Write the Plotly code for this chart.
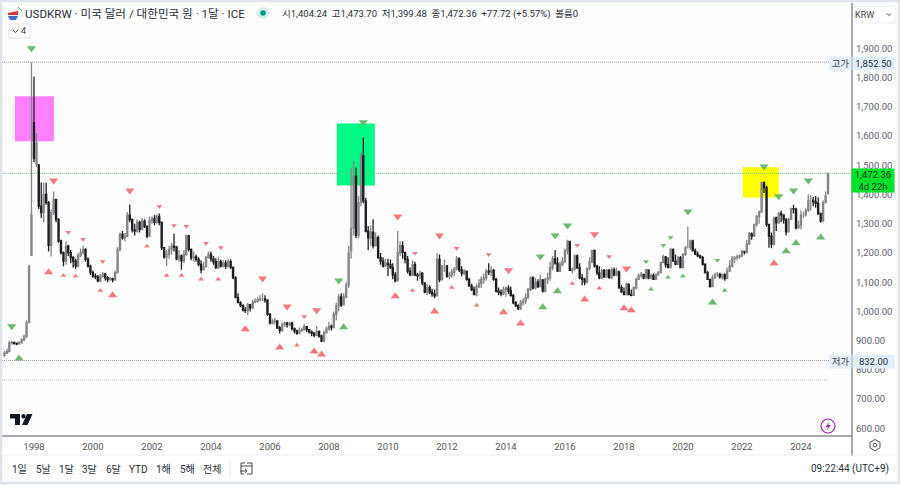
import pandas as pd
import plotly.graph_objects as go

W, H = 900, 485
FONT = "Roboto, 'Noto Sans CJK KR', sans-serif"

# monthly bars, Jan 1997 .. Dec 2024, one row per year
closes = [
    857, 863, 892, 894, 891, 889, 893, 903, 915, 962, 1154, 1329,
    1523, 1578, 1360, 1338, 1400, 1372, 1226, 1338, 1383, 1315, 1241, 1201,
    1172, 1223, 1201, 1184, 1172, 1155, 1190, 1201, 1212, 1178, 1155, 1133,
    1121, 1118, 1105, 1120, 1128, 1116, 1109, 1112, 1108, 1133, 1212, 1264,
    1252, 1258, 1329, 1315, 1279, 1275, 1305, 1281, 1309, 1290, 1258, 1310,
    1318, 1305, 1325, 1305, 1218, 1187, 1195, 1212, 1223, 1220, 1180, 1190,
    1173, 1195, 1258, 1212, 1184, 1187, 1178, 1161, 1142, 1153, 1185, 1195,
    1180, 1170, 1150, 1170, 1155, 1165, 1155, 1170, 1150, 1115, 1047, 1030,
    1020, 1005, 1003, 1023, 1012, 1032, 1035, 1040, 1043, 1043, 1039, 990,
    961, 965, 968, 944, 935, 955, 960, 955, 960, 941, 933, 925,
    935, 938, 948, 938, 930, 925, 918, 932, 916, 899, 927, 940,
    950, 945, 990, 1020, 1050, 1023, 1050, 1090, 1200, 1285, 1463, 1260,
    1372, 1532, 1378, 1275, 1252, 1271, 1224, 1252, 1184, 1172, 1155, 1165,
    1160, 1150, 1125, 1105, 1201, 1225, 1201, 1178, 1138, 1125, 1160, 1125,
    1122, 1130, 1098, 1066, 1082, 1066, 1060, 1053, 1178, 1109, 1155, 1155,
    1121, 1125, 1135, 1145, 1180, 1142, 1130, 1138, 1110, 1087, 1075, 1058,
    1085, 1095, 1110, 1115, 1138, 1135, 1140, 1110, 1070, 1065, 1060, 1075,
    1080, 1070, 1055, 1030, 1020, 1010, 1030, 1035, 1047, 1075, 1115, 1081,
    1100, 1085, 1108, 1070, 1110, 1115, 1150, 1180, 1165, 1138, 1160, 1172,
    1207, 1240, 1141, 1145, 1190, 1150, 1115, 1110, 1100, 1147, 1170, 1208,
    1155, 1132, 1115, 1140, 1118, 1140, 1115, 1142, 1125, 1135, 1081, 1066,
    1058, 1093, 1058, 1055, 1081, 1110, 1123, 1127, 1115, 1142, 1115, 1123,
    1110, 1127, 1133, 1167, 1187, 1160, 1150, 1212, 1172, 1161, 1184, 1150,
    1195, 1218, 1218, 1241, 1207, 1195, 1190, 1184, 1161, 1133, 1110, 1085,
    1116, 1127, 1127, 1118, 1127, 1112, 1138, 1155, 1180, 1185, 1187, 1190,
    1205, 1203, 1230, 1265, 1258, 1298, 1325, 1340, 1440, 1424, 1298, 1258,
    1230, 1320, 1303, 1335, 1330, 1313, 1272, 1315, 1352, 1350, 1286, 1295,
    1330, 1330, 1345, 1380, 1380, 1375, 1370, 1335, 1310, 1372, 1395, 1472.36,
]
highs = [
    866, 872, 900, 899, 896, 894, 898, 908, 920, 970, 1160, 1852.5,
    1804, 1610, 1505, 1441, 1441, 1441, 1378, 1349, 1410, 1383, 1320, 1245,
    1205, 1240, 1228, 1210, 1190, 1180, 1200, 1215, 1225, 1216, 1185, 1160,
    1140, 1130, 1125, 1128, 1135, 1132, 1120, 1118, 1115, 1140, 1220, 1270,
    1275, 1268, 1340, 1366, 1318, 1300, 1315, 1310, 1320, 1315, 1295, 1325,
    1325, 1330, 1332, 1335, 1308, 1215, 1210, 1225, 1235, 1266, 1225, 1210,
    1195, 1210, 1262, 1262, 1215, 1205, 1195, 1185, 1175, 1170, 1190, 1205,
    1205, 1190, 1182, 1185, 1178, 1175, 1175, 1180, 1178, 1155, 1120, 1062,
    1035, 1025, 1015, 1030, 1020, 1040, 1045, 1050, 1055, 1062, 1055, 1042,
    995, 975, 978, 970, 950, 962, 965, 965, 965, 965, 945, 938,
    945, 945, 958, 950, 940, 935, 930, 950, 935, 920, 935, 948,
    965, 955, 1000, 1030, 1060, 1062, 1062, 1100, 1224, 1491, 1514, 1492,
    1395, 1543, 1594, 1389, 1292, 1295, 1315, 1270, 1260, 1200, 1185, 1180,
    1180, 1178, 1165, 1135, 1275, 1240, 1240, 1205, 1190, 1150, 1175, 1170,
    1132, 1140, 1135, 1100, 1095, 1090, 1078, 1075, 1200, 1195, 1160, 1178,
    1160, 1135, 1145, 1152, 1190, 1185, 1155, 1145, 1140, 1115, 1095, 1085,
    1095, 1110, 1120, 1130, 1145, 1165, 1155, 1145, 1115, 1082, 1075, 1085,
    1085, 1090, 1085, 1060, 1035, 1025, 1040, 1045, 1062, 1080, 1120, 1120,
    1115, 1110, 1125, 1108, 1115, 1132, 1170, 1190, 1210, 1185, 1170, 1185,
    1215, 1245, 1240, 1150, 1195, 1195, 1165, 1128, 1115, 1150, 1185, 1212,
    1212, 1160, 1155, 1147, 1145, 1145, 1145, 1150, 1150, 1150, 1140, 1090,
    1082, 1098, 1090, 1075, 1085, 1115, 1130, 1135, 1128, 1145, 1140, 1130,
    1130, 1130, 1138, 1170, 1195, 1190, 1185, 1218, 1215, 1195, 1190, 1190,
    1200, 1225, 1290, 1245, 1245, 1215, 1205, 1195, 1190, 1165, 1138, 1112,
    1125, 1132, 1135, 1132, 1130, 1130, 1150, 1175, 1190, 1190, 1195, 1195,
    1210, 1208, 1245, 1272, 1270, 1300, 1330, 1345, 1443, 1445, 1430, 1300,
    1270, 1325, 1325, 1340, 1345, 1330, 1320, 1320, 1355, 1365, 1355, 1310,
    1345, 1340, 1355, 1400, 1398, 1392, 1395, 1390, 1338, 1380, 1410, 1473.7,
]
lows = [
    845, 855, 861, 886, 886, 884, 886, 890, 899, 908, 960, 1192,
    1510, 1495, 1350, 1320, 1305, 1365, 1205, 1188, 1330, 1305, 1235, 1195,
    1155, 1160, 1190, 1165, 1150, 1145, 1150, 1185, 1195, 1170, 1150, 1125,
    1115, 1110, 1100, 1100, 1115, 1105, 1100, 1105, 1100, 1105, 1130, 1205,
    1245, 1240, 1255, 1305, 1270, 1260, 1270, 1270, 1280, 1285, 1250, 1255,
    1300, 1295, 1300, 1295, 1210, 1180, 1155, 1180, 1195, 1205, 1175, 1170,
    1143, 1165, 1190, 1205, 1175, 1170, 1170, 1155, 1130, 1140, 1150, 1180,
    1170, 1160, 1145, 1145, 1150, 1150, 1145, 1150, 1145, 1110, 1045, 1028,
    1015, 1000, 995, 988, 1000, 1008, 1030, 1030, 1035, 1035, 1030, 985,
    955, 955, 955, 940, 925, 930, 948, 945, 950, 935, 925, 920,
    922, 930, 935, 930, 925, 915, 912, 915, 910, 895, 895, 925,
    935, 935, 945, 970, 1000, 1015, 1020, 1045, 1080, 1180, 1260, 1250,
    1250, 1360, 1370, 1270, 1210, 1225, 1215, 1222, 1180, 1160, 1150, 1155,
    1121, 1145, 1110, 1100, 1105, 1190, 1180, 1165, 1130, 1120, 1120, 1120,
    1105, 1110, 1090, 1062, 1055, 1060, 1050, 1045, 1060, 1100, 1105, 1135,
    1115, 1110, 1115, 1120, 1140, 1135, 1120, 1125, 1105, 1085, 1070, 1055,
    1052, 1080, 1080, 1095, 1105, 1125, 1120, 1105, 1065, 1055, 1052, 1055,
    1050, 1060, 1050, 1025, 1015, 1005, 1005, 1020, 1025, 1042, 1070, 1075,
    1075, 1080, 1085, 1065, 1065, 1095, 1105, 1140, 1160, 1135, 1135, 1155,
    1165, 1195, 1140, 1130, 1140, 1145, 1110, 1090, 1090, 1095, 1140, 1165,
    1150, 1125, 1110, 1110, 1115, 1115, 1115, 1110, 1120, 1120, 1078, 1064,
    1056, 1055, 1055, 1052, 1055, 1075, 1108, 1115, 1110, 1110, 1110, 1110,
    1108, 1110, 1122, 1132, 1165, 1150, 1148, 1180, 1170, 1158, 1160, 1150,
    1155, 1190, 1215, 1210, 1205, 1193, 1185, 1180, 1157, 1130, 1108, 1082,
    1085, 1110, 1118, 1112, 1108, 1105, 1110, 1135, 1150, 1165, 1175, 1180,
    1185, 1195, 1198, 1230, 1245, 1255, 1290, 1300, 1338, 1405, 1290, 1218,
    1216, 1225, 1275, 1300, 1305, 1300, 1260, 1270, 1315, 1335, 1280, 1285,
    1280, 1320, 1325, 1340, 1345, 1360, 1355, 1330, 1303, 1305, 1375, 1399.48,
]
# opens follow the previous close except where the bar gaps
open_gaps = {0: 850, 11: 1192, 12: 1646, 13: 1503, 14: 1500, 141: 1207, 335: 1404.24}

# pivot markers: bar number (0 = Jan 1997) and price
green_down_big = ([11, 3, 136, 146, 218, 224, 229, 278, 309, 315, 321, 327],
                  [1900, 949, 1106, 1647, 1188, 1260, 1294, 1342, 1496, 1394, 1414, 1448])
green_down_small = ([261, 268, 271, 290], [1171, 1226, 1253, 1175])
green_up_big = ([6, 138, 219, 225, 288, 318, 322, 332],
                [839, 946, 1014, 1069, 1031, 1206, 1233, 1253])
green_up_small = ([263, 270, 276, 293], [1076, 1117, 1120, 1072])
red_down_big = ([20, 51, 105, 115, 127, 160, 177, 205, 240, 253],
                [1448, 1414, 1113, 1017, 1004, 1325, 1260, 1141, 1264, 1147])
red_down_small = ([26, 32, 40, 63, 69, 74, 82, 88, 122, 167, 184, 197, 233, 246],
                  [1271, 1247, 1171, 1359, 1294, 1291, 1233, 1219, 983, 1199, 1216, 1195, 1226, 1188])
red_up_big = ([18, 44, 98, 112, 126, 129, 159, 175, 203, 210, 236, 252, 255, 313],
              [1134, 1055, 939, 877, 863, 853, 1052, 1000, 997, 959, 1041, 1011, 1004, 1164])
red_up_small = ([24, 29, 39, 58, 66, 72, 80, 87, 119, 166, 182, 192, 231, 242],
                [1123, 1120, 1072, 1223, 1123, 1123, 1110, 1110, 884, 1072, 1082, 1021, 1096, 1079])

price_ticks = [600, 700, 800, 900, 1000, 1100, 1200, 1300, 1400, 1500, 1600, 1700, 1800, 1900]
year_ticks = [str(y) for y in range(1998, 2025, 2)]
range_buttons = ["1일", "5날", "1달", "3달", "6달", "YTD", "1해", "5해", "전체"]
button_xs = [19, 43, 66, 89, 113, 138, 163, 187, 212]

months = pd.date_range("1997-01-01", periods=len(closes), freq="MS")
opens = [open_gaps.get(i, closes[i - 1]) for i in range(len(closes))]


# chrome is placed in screen pixels, these turn them into paper fractions
def px(x):
    return x / W


def py(y):
    return 1 - y / H


def poly(points, close=True):
    d = "M" + " L".join(f"{px(x):.5f},{py(y):.5f}" for x, y in points)
    return d + (" Z" if close else "")


fig = go.Figure()
fig.add_trace(go.Candlestick(
    x=months, open=opens, high=highs, low=lows, close=closes,
    increasing=dict(line=dict(color="#85858a", width=1.3), fillcolor="#9a9a9e"),
    decreasing=dict(line=dict(color="#1e1e22", width=1.3), fillcolor="#1e1e22"),
    whiskerwidth=0,
))


def add_markers(data, symbol, color, size):
    fig.add_trace(go.Scatter(
        x=[months[i] for i in data[0]], y=data[1], mode="markers",
        marker=dict(symbol=symbol, color=color, size=size, line=dict(width=0)),
    ))


GREEN = "#6cba74"
RED = "#f47a80"
add_markers(green_down_big, "triangle-down", GREEN, 8)
add_markers(green_down_small, "triangle-down", GREEN, 5)
add_markers(green_up_big, "triangle-up", GREEN, 8)
add_markers(green_up_small, "triangle-up", GREEN, 5)
add_markers(red_down_big, "triangle-down", RED, 8)
add_markers(red_down_small, "triangle-down", RED, 5)
add_markers(red_up_big, "triangle-up", RED, 8)
add_markers(red_up_small, "triangle-up", RED, 5)

shapes = []


def box(x0, x1, y0, y1, color):
    shapes.append(dict(type="rect", xref="x", yref="y", x0=x0, x1=x1, y0=y0, y1=y1,
                       fillcolor=color, line_width=0, layer="below"))


box("1997-05-10", "1998-09-05", 1582, 1736, "#ff80ff")
box("2008-04-08", "2009-07-22", 1431, 1643, "#00fa85")
box("2022-01-12", "2023-04-01", 1390, 1493, "#ffff00")


def level(price, x1, color):
    shapes.append(dict(type="line", xref="x", yref="y", x0="1996-12-01", x1=x1, y0=price, y1=price,
                       line=dict(color=color, width=1, dash="1px,1px"), layer="below"))


level(1852.5, "2024-12-20", "#9a9ca4")
level(832, "2024-12-20", "#9a9ca4")
level(765, "2024-12-01", "#d0b0bc")
level(1472.36, "2025-09-24", "#74d074")


def paper_rect(x0, y0, x1, y1, **kw):
    shapes.append(dict(type="rect", xref="paper", yref="paper", x0=px(x0), x1=px(x1),
                       y0=py(y1), y1=py(y0), **kw))


def paper_line(x0, y0, x1, y1, color, width=1):
    shapes.append(dict(type="line", xref="paper", yref="paper", x0=px(x0), x1=px(x1),
                       y0=py(y0), y1=py(y1), line=dict(color=color, width=width)))


def paper_path(points, fill="rgba(0,0,0,0)", line=None, width=1, close=True):
    shapes.append(dict(type="path", xref="paper", yref="paper", path=poly(points, close),
                       fillcolor=fill, line=dict(color=line or "rgba(0,0,0,0)", width=width)))


def paper_circle(cx, cy, r, fill="rgba(0,0,0,0)", line=None, width=1):
    shapes.append(dict(type="circle", xref="paper", yref="paper",
                       x0=px(cx - r), x1=px(cx + r), y0=py(cy + r), y1=py(cy - r),
                       fillcolor=fill, line=dict(color=line or "rgba(0,0,0,0)", width=width)))


# panel lines and frame
paper_line(2, 436, 852, 436, "#8a8c92", 1.5)
paper_line(852, 3, 852, 456, "#8a8c92", 1.5)
paper_line(2, 455, 897, 455, "#eceef2")
paper_line(230, 461, 230, 478, "#e6e8ec")
paper_rect(1, 1, 899, 483, line=dict(color="#e0e3eb", width=2.5), fillcolor="rgba(0,0,0,0)")

# buttons
paper_rect(855, 6, 895, 23, line=dict(color="#eceef2", width=1), fillcolor="#ffffff")
paper_rect(9, 24, 30, 38, line=dict(color="#dfe1e6", width=1), fillcolor="#ffffff")
paper_path([(13, 30), (15.5, 32.5), (18, 30)], line="#444", close=False)
paper_path([(887, 13.5), (889, 15.5), (891, 13.5)], line="#444", close=False)

# flag
paper_circle(13, 15, 5, fill="#f0f0f4")
paper_path([(8, 13), (18, 11), (18, 15), (8, 15)], fill="#d9363e")
paper_path([(8, 16), (18, 16), (16, 20), (10, 20)], fill="#3a6fc4")
paper_path([(18, 7), (22, 11)], line="#888", close=False)

# market status dot
paper_circle(263, 13, 6, fill="#d5efe9")
paper_circle(263, 13, 2.8, fill="#089981")

# TradingView mark
paper_path([(10, 414), (20, 414), (20, 425), (15, 425), (15, 418.5), (10, 418.5)], fill="#131722")
paper_circle(23.5, 416.3, 2.2, fill="#131722")
paper_path([(27, 414), (32.5, 414), (27.5, 425), (22, 425)], fill="#131722")

# lightning badge
paper_circle(828, 426, 7, line="#9c27b0", width=1.2)
paper_path([(829.5, 421.5), (825.5, 427), (828, 427), (826.8, 430.5), (830.8, 425), (828.3, 425)],
           fill="#9c27b0")

# settings hexagon
paper_path([(875, 439.5), (880, 442.3), (880, 447.9), (875, 450.7), (870, 447.9), (870, 442.3)], line="#555")
paper_circle(875, 445.1, 1.8, line="#555")

# calendar icon
paper_path([(245, 463), (241, 463), (241, 474), (244, 474)], line="#444", close=False)
paper_path([(247, 463), (252, 463), (252, 474), (247, 474)], line="#444", close=False)
paper_line(241, 466, 252, 466, "#444")
paper_path([(240, 471), (247, 471)], line="#444", close=False)
paper_path([(245, 469), (247, 471), (245, 473)], line="#444", close=False)

annotations = []


def label(x, y, text, size=10, color="#131722", anchor="left", **kw):
    annotations.append(dict(xref="paper", yref="paper", x=px(x), y=py(y), text=text,
                            showarrow=False, xanchor=anchor, yanchor="middle",
                            font=dict(family=FONT, size=size, color=color),
                            borderpad=0, **kw))


label(24, 14, "USDKRW · 미국 달러 / 대한민국 원 · 1달 · ICE", size=11.6, color="#2a2e39")
label(281, 14, "시1,404.24  고1,473.70  저1,399.48  종1,472.36  +77.72 (+5.57%)  볼륨0", size=9.5, color="#2a2e39")
label(20, 31, "4", size=9, color="#444")
label(875, 14.5, "KRW", size=9, color="#444", anchor="right")

label(840, 63.5, "고가", size=9.5, color="#444", anchor="center", bgcolor="#e3eefb", width=21, height=13)
label(873, 63.5, "1,852.50", size=9.5, color="#2a2e39", anchor="center", bgcolor="#e3eefb", width=41, height=13)
label(840, 361.5, "저가", size=9.5, color="#444", anchor="center", bgcolor="#e3eefb", width=21, height=13)
label(873, 361.5, "832.00", size=9.5, color="#2a2e39", anchor="center", bgcolor="#e3eefb", width=41, height=13)
label(873, 180, "1,472.36<br>4d 22h", size=9.5, color="#1b3a1b", anchor="center",
      bgcolor="#00e22a", width=42, height=23)

for name, bx in zip(range_buttons, button_xs):
    label(bx, 469, name, size=10, color="#2a2e39", anchor="center")
label(890, 469, "09:22:44 (UTC+9)", size=10, color="#2a2e39", anchor="right")

fig.update_layout(
    width=W, height=H, margin=dict(l=0, r=0, t=0, b=0), showlegend=False,
    paper_bgcolor="#ffffff", plot_bgcolor="#fdfdfd",
    font=dict(family=FONT, size=10, color="#555"),
    shapes=shapes, annotations=annotations,
    xaxis=dict(
        domain=[px(2), px(852)], range=["1996-12-01", "2025-09-24"],
        type="date", rangeslider=dict(visible=False), showgrid=False, zeroline=False,
        tickmode="array", tickvals=[f"{y}-01-01" for y in year_ticks], ticktext=year_ticks,
        tickfont=dict(size=9.5, color="#555"), ticks="", ticklabelstandoff=3,
    ),
    yaxis=dict(
        domain=[py(436), py(3)], range=[574, 2055], side="right", showgrid=False, zeroline=False,
        tickmode="array", tickvals=price_ticks, tickformat=",.2f", ticks="",
        tickfont=dict(size=9.5, color="#5d606b"), ticklabelstandoff=3,
    ),
)

fig.write_html("out.html", config={"displayModeBar": False},
               post_script="document.body.style.margin='0';")
